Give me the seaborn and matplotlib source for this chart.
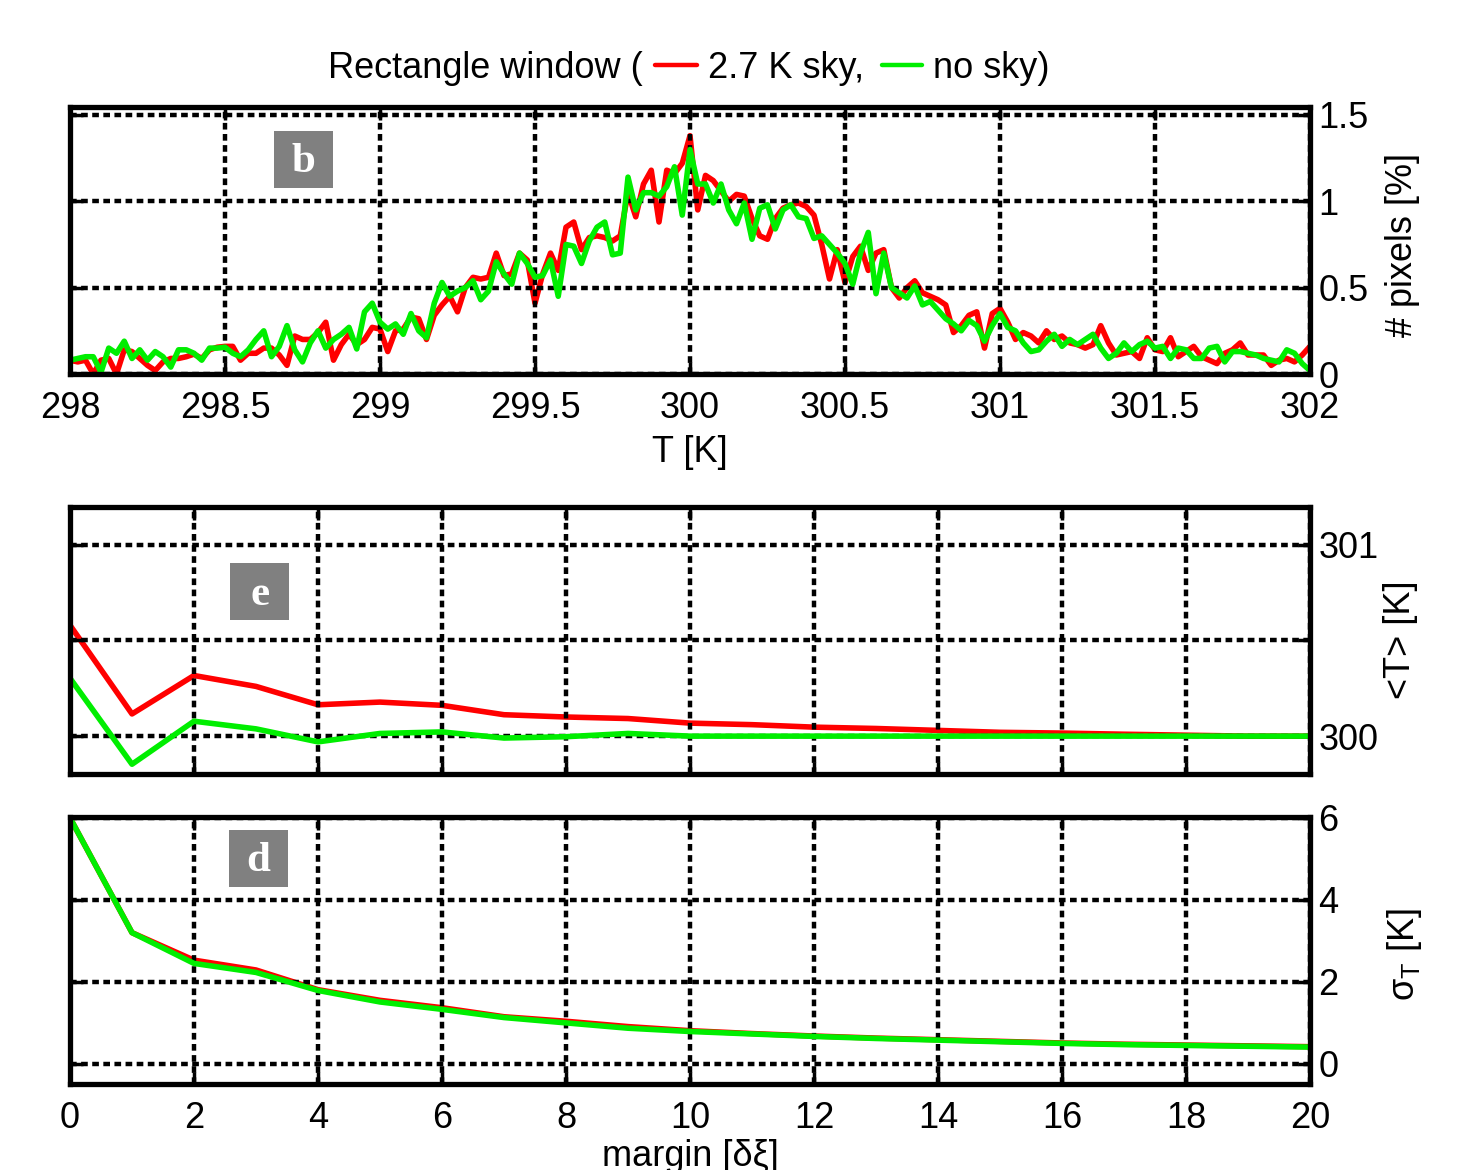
import numpy as np
import pandas as pd
import matplotlib
matplotlib.use("Agg")
import matplotlib.pyplot as plt
import seaborn as sns
from matplotlib.patches import Rectangle
from matplotlib.lines import Line2D

# ---------------- data ----------------
temp_bins = np.linspace(298.0, 302.0, 161)

hist_sky = [
    0.08, 0.07, 0.08, 0.00, 0.08, 0.09, 0.00, 0.14, 0.13, 0.09,
    0.05, 0.02, 0.07, 0.09, 0.09, 0.10, 0.115, 0.09, 0.14, 0.155,
    0.16, 0.16, 0.08, 0.12, 0.12, 0.15, 0.15, 0.11, 0.05, 0.22,
    0.20, 0.20, 0.24, 0.30, 0.08, 0.17, 0.23, 0.17, 0.20, 0.27,
    0.26, 0.13, 0.25, 0.26, 0.33, 0.32, 0.20, 0.34, 0.40, 0.45,
    0.36, 0.50, 0.56, 0.55, 0.56, 0.70, 0.57, 0.58, 0.70, 0.66,
    0.41, 0.58, 0.70, 0.60, 0.85, 0.88, 0.72, 0.79, 0.80, 0.79,
    0.77, 0.80, 1.05, 0.91, 1.10, 1.18, 0.88, 1.18, 1.16, 1.22,
    1.38, 0.95, 1.15, 1.12, 1.06, 1.00, 1.04, 1.03, 0.90, 0.80,
    0.78, 0.90, 0.96, 0.98, 0.99, 0.97, 0.92, 0.75, 0.55, 0.72,
    0.53, 0.68, 0.74, 0.60, 0.70, 0.72, 0.50, 0.44, 0.50, 0.54,
    0.47, 0.45, 0.43, 0.40, 0.24, 0.28, 0.34, 0.36, 0.15, 0.35,
    0.38, 0.30, 0.20, 0.24, 0.22, 0.18, 0.25, 0.20, 0.22, 0.18,
    0.17, 0.15, 0.17, 0.28, 0.18, 0.11, 0.12, 0.13, 0.09, 0.21,
    0.14, 0.13, 0.21, 0.10, 0.13, 0.16, 0.10, 0.08, 0.06, 0.12,
    0.14, 0.18, 0.11, 0.11, 0.11, 0.05, 0.08, 0.09, 0.07, 0.11,
    0.16,
]

hist_nosky = [
    0.08, 0.09, 0.10, 0.10, 0.01, 0.15, 0.12, 0.19, 0.09, 0.14,
    0.08, 0.13, 0.10, 0.04, 0.14, 0.14, 0.12, 0.08, 0.15, 0.15,
    0.155, 0.12, 0.10, 0.14, 0.20, 0.25, 0.10, 0.16, 0.28, 0.14,
    0.07, 0.18, 0.25, 0.15, 0.20, 0.23, 0.27, 0.145, 0.36, 0.41,
    0.30, 0.26, 0.29, 0.23, 0.35, 0.25, 0.21, 0.41, 0.53, 0.45,
    0.48, 0.50, 0.54, 0.43, 0.48, 0.65, 0.58, 0.52, 0.70, 0.64,
    0.56, 0.57, 0.66, 0.45, 0.75, 0.74, 0.64, 0.77, 0.85, 0.88,
    0.69, 0.70, 1.14, 0.95, 1.05, 1.05, 1.03, 1.085, 1.20, 0.92,
    1.30, 1.10, 1.10, 0.99, 1.10, 0.95, 0.87, 0.99, 0.78, 0.96,
    0.98, 0.84, 0.95, 0.98, 0.91, 0.90, 0.785, 0.80, 0.75, 0.70,
    0.64, 0.52, 0.70, 0.82, 0.465, 0.70, 0.50, 0.47, 0.44, 0.51,
    0.40, 0.42, 0.37, 0.32, 0.29, 0.25, 0.31, 0.28, 0.19, 0.28,
    0.35, 0.27, 0.25, 0.18, 0.13, 0.14, 0.19, 0.23, 0.16, 0.20,
    0.17, 0.20, 0.23, 0.15, 0.09, 0.12, 0.18, 0.13, 0.17, 0.19,
    0.15, 0.16, 0.09, 0.15, 0.14, 0.09, 0.09, 0.15, 0.16, 0.07,
    0.13, 0.13, 0.12, 0.11, 0.09, 0.08, 0.07, 0.14, 0.12, 0.06,
    0.02,
]

margin = list(range(0, 21))

mean_sky = [300.58, 300.116, 300.317, 300.26, 300.164, 300.178, 300.161,
            300.112, 300.10, 300.092, 300.068, 300.06, 300.047, 300.04,
            300.03, 300.02, 300.016, 300.01, 300.005, 300.0, 300.0]
mean_nosky = [300.303, 299.853, 300.078, 300.038, 299.97, 300.014, 300.022,
              299.99, 299.997, 300.014, 300.0, 300.0, 300.0, 300.0,
              300.0, 300.0, 300.0, 300.0, 300.0, 300.0, 300.0]

sigma_sky = [6.0, 3.2, 2.53, 2.29, 1.81, 1.55, 1.37, 1.15, 1.04, 0.91, 0.81,
             0.74, 0.68, 0.63, 0.59, 0.55, 0.51, 0.48, 0.46, 0.44, 0.42]
sigma_nosky = [6.0, 3.2, 2.45, 2.23, 1.79, 1.51, 1.33, 1.13, 1.0, 0.87, 0.79,
               0.73, 0.67, 0.62, 0.58, 0.54, 0.50, 0.47, 0.45, 0.43, 0.41]

top_xticks = [298, 298.5, 299, 299.5, 300, 300.5, 301, 301.5, 302]
top_xticklabels = ["298", "298.5", "299", "299.5", "300", "300.5", "301", "301.5", "302"]
top_yticks = [0, 0.5, 1, 1.5]
top_yticklabels = ["0", "0.5", "1", "1.5"]
mid_yticks = [300, 300.5, 301]
mid_yticklabels = ["300", "", "301"]
bot_yticks = [0, 2, 4, 6]
bot_yticklabels = ["0", "2", "4", "6"]
margin_ticks = list(range(0, 21, 2))

# ---------------- style ----------------
sns.set_style("white")
plt.rcParams["font.family"] = ["Liberation Sans", "DejaVu Sans"]
plt.rcParams["mathtext.fontset"] = "custom"
plt.rcParams["mathtext.rm"] = "Liberation Sans"
plt.rcParams["mathtext.it"] = "Liberation Sans"
plt.rcParams["text.color"] = "black"
plt.rcParams["axes.labelcolor"] = "black"
plt.rcParams["xtick.color"] = "black"
plt.rcParams["ytick.color"] = "black"

RED = "#ff0000"
GREEN = "#00ee00"
FS = 26
LW = 4.0

fig = plt.figure(figsize=(14.62, 11.70), dpi=100)
fig.patch.set_facecolor("white")

W = 1462.0
H = 1170.0


def axes_rect(x0, y0, x1, y1):
    return [x0 / W, 1 - y1 / H, (x1 - x0) / W, (y1 - y0) / H]


ax1 = fig.add_axes(axes_rect(70, 107, 1310, 374))
ax2 = fig.add_axes(axes_rect(70, 507, 1310, 774))
ax3 = fig.add_axes(axes_rect(70, 817, 1310, 1084))

df_top = pd.DataFrame({"T": temp_bins, "sky": hist_sky, "nosky": hist_nosky})
df_m = pd.DataFrame({"m": margin, "mean_sky": mean_sky, "mean_nosky": mean_nosky,
                     "sig_sky": sigma_sky, "sig_nosky": sigma_nosky})

sns.lineplot(data=df_top, x="T", y="sky", ax=ax1, color=RED, lw=LW, zorder=2)
sns.lineplot(data=df_top, x="T", y="nosky", ax=ax1, color=GREEN, lw=LW, zorder=3)
sns.lineplot(data=df_m, x="m", y="mean_sky", ax=ax2, color=RED, lw=LW, zorder=2)
sns.lineplot(data=df_m, x="m", y="mean_nosky", ax=ax2, color=GREEN, lw=LW, zorder=3)
sns.lineplot(data=df_m, x="m", y="sig_sky", ax=ax3, color=RED, lw=LW, zorder=2)
sns.lineplot(data=df_m, x="m", y="sig_nosky", ax=ax3, color=GREEN, lw=LW, zorder=3)

ax1.set_xlim(298, 302)
ax1.set_ylim(0, 1.546)
ax2.set_xlim(0, 20)
ax2.set_ylim(299.802, 301.198)
ax3.set_xlim(0, 20)
ax3.set_ylim(-0.49, 6.02)

ax1.set_xticks(top_xticks)
ax1.set_xticklabels(top_xticklabels)
ax1.set_yticks(top_yticks)
ax1.set_yticklabels(top_yticklabels)
ax2.set_xticks(margin_ticks)
ax2.set_xticklabels([])
ax2.set_yticks(mid_yticks)
ax2.set_yticklabels(mid_yticklabels)
ax3.set_xticks(margin_ticks)
ax3.set_xticklabels([str(t) for t in margin_ticks])
ax3.set_yticks(bot_yticks)
ax3.set_yticklabels(bot_yticklabels)

for ax in (ax1, ax2, ax3):
    ax.set_xlabel("")
    ax.set_ylabel("")
    ax.yaxis.tick_right()
    ax.tick_params(axis="both", which="both", direction="in", length=9, width=2.5,
                   labelsize=FS, color="black", labelcolor="black",
                   left=True, right=True, top=True, bottom=True,
                   labelleft=False)
    ax.tick_params(axis="y", pad=6)
    ax.tick_params(axis="x", pad=12)
    ax.grid(True, color="black", lw=3.2, linestyle=(0, (1.5, 1.0)))
    ax.set_axisbelow(False)
    for s in ax.spines.values():
        s.set_visible(True)
        s.set_color("black")
        s.set_linewidth(3.8)
        s.set_zorder(5)
    ax.set_facecolor("white")

# panel tags
for ax, letter, (cx, cy) in ((ax1, "b", (0.188, 0.803)),
                             (ax2, "e", (0.153, 0.682)),
                             (ax3, "d", (0.152, 0.846))):
    w, h = 59 / 1240.0, 57 / 267.0
    ax.add_patch(Rectangle((cx - w / 2, cy - h / 2), w, h, transform=ax.transAxes,
                           facecolor="#808080", edgecolor="none", zorder=6))
    ax.text(cx, cy - 0.01, letter, transform=ax.transAxes, ha="center", va="center",
            color="white", fontsize=31, fontweight="bold",
            family=["Liberation Serif", "DejaVu Serif"], zorder=7)

# axis labels
fig.text(690 / W, 1 - 452 / H, "T [K]", ha="center", va="center", fontsize=FS)
fig.text(690 / W, 1 - 1157 / H, "margin [δξ]", ha="center", va="center", fontsize=FS)
fig.text(1403 / W, 1 - 245 / H, "# pixels [%]", ha="center", va="center",
         rotation=90, fontsize=FS)
fig.text(1400 / W, 1 - 640 / H, "<T> [K]", ha="center", va="center",
         rotation=90, fontsize=FS)
fig.text(1405 / W, 1 - 955 / H, r"$\mathregular{\sigma_T}$ [K]", ha="center", va="center",
         rotation=90, fontsize=FS)

# title with colored line keys
ty = 1 - 78 / H
ly = 1 - 65 / H
fig.text(328 / W, ty, "Rectangle window (", ha="left", va="baseline", fontsize=FS)
fig.add_artist(Line2D([655 / W, 697 / W], [ly, ly], color=RED, lw=3.2,
                      transform=fig.transFigure))
fig.text(708 / W, ty, "2.7 K sky,", ha="left", va="baseline", fontsize=FS)
fig.add_artist(Line2D([882 / W, 922 / W], [ly, ly], color=GREEN, lw=3.2,
                      transform=fig.transFigure))
fig.text(933 / W, ty, "no sky)", ha="left", va="baseline", fontsize=FS)

fig.savefig("out.png", dpi=100, facecolor="white")
